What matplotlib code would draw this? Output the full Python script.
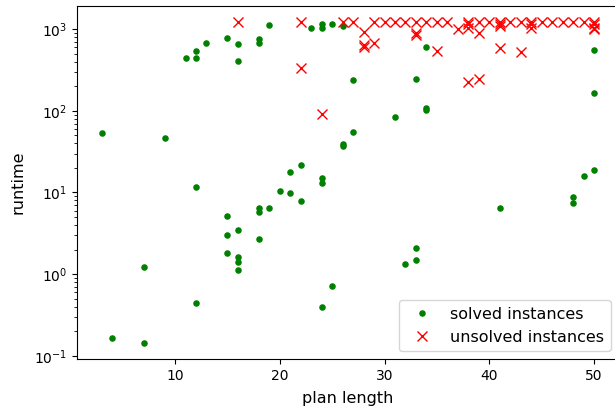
import matplotlib.pyplot as plt

# solved instances: plan length / runtime
solved_len = [3, 4, 7, 7, 9, 11, 12, 12, 12, 12, 13,
              15, 15, 15, 15, 16, 16, 16, 16, 16, 16,
              18, 18, 18, 18, 18, 19, 19, 20, 21, 21, 22, 22, 23,
              24, 24, 24, 24, 24, 25, 25, 26, 26, 26, 27, 27,
              31, 32, 33, 33, 33, 34, 34, 34, 41, 48, 48, 49, 50, 50, 50]
solved_time = [54, 0.166, 1.22, 0.142, 46.5, 441, 542, 441, 11.8, 0.44, 673,
               789, 5.15, 3.04, 1.83, 667, 406, 3.47, 1.63, 1.41, 1.13,
               760, 685, 6.4, 5.8, 2.69, 1120, 6.5, 10.4, 17.8, 9.8, 21.7, 7.9, 1037,
               1161, 1037, 15.1, 13.2, 0.40, 1161, 0.71, 1097, 39, 37, 237, 55.6,
               83.5, 1.34, 246, 2.11, 1.48, 601, 110, 104, 6.45, 8.8, 7.5, 16.1, 557, 167, 19.1]

# unsolved instances
unsolved_len = [16, 22, 22, 24, 26, 27, 28, 28, 28, 29, 29, 30, 31, 32,
                33, 33, 33, 34, 35, 35, 36, 37, 38, 38, 38, 38,
                39, 39, 39, 40, 41, 41, 41, 41, 42, 43, 43, 44, 44, 44,
                45, 46, 47, 48, 49, 50, 50, 50, 50]
unsolved_time = [1220, 1220, 333, 91, 1220, 1220, 935, 650, 615, 1220, 685, 1220, 1220, 1220,
                 1220, 900, 840, 1220, 1220, 547, 1220, 1010, 1220, 1150, 1050, 228,
                 1220, 893, 244, 1220, 1220, 1150, 1100, 596, 1220, 1220, 523, 1220, 1150, 1050,
                 1220, 1220, 1220, 1220, 1220, 1220, 1150, 1050, 1000]

fig = plt.figure(figsize=(6.15, 4.13), dpi=100)
ax = fig.add_axes([0.1254, 0.1308, 0.8805, 0.8554])  # right side runs past the edge, like the original

ax.plot(solved_len, solved_time, 'go', markersize=3.7, linestyle='none', label='solved instances')
ax.plot(unsolved_len, unsolved_time, 'rx', markersize=7, linestyle='none', label='unsolved instances')

ax.set_yscale('log')
ax.set_xlim(0.65, 52.35)
ax.set_ylim(10**-1.04, 10**3.289)
ax.set_xlabel('plan length', fontsize=11.5, labelpad=6)
ax.set_ylabel('runtime', fontsize=11.5, labelpad=6)
ax.legend(loc='lower right', fontsize=11.5)

fig.savefig('out.png', dpi=100)
